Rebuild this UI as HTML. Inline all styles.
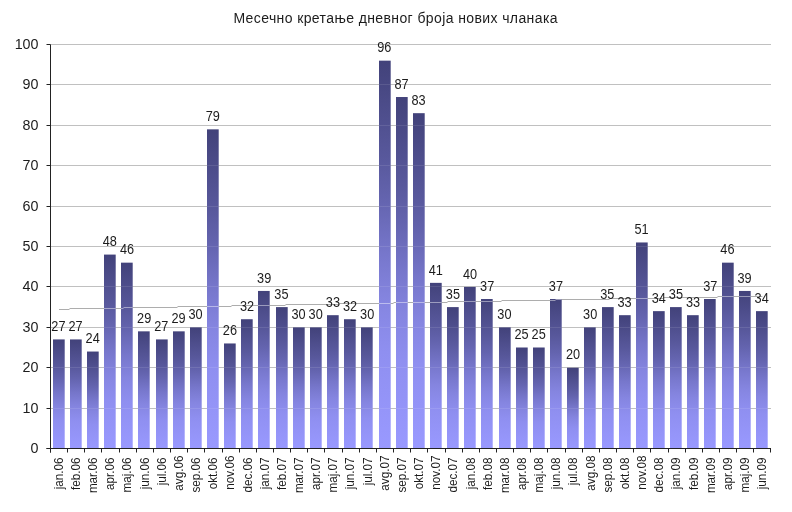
<!DOCTYPE html>
<html><head><meta charset="utf-8"><title>Месечно кретање дневног броја нових чланака</title>
<style>
html,body{margin:0;padding:0;background:#fff;}
body{width:792px;height:512px;overflow:hidden;font-family:"Liberation Sans",sans-serif;}
svg{display:block;}
text{font-family:"Liberation Sans",sans-serif;fill:#1c1c1c;}
.t{font-size:14px;}
.y{font-size:14.3px;text-anchor:end;}
.d{font-size:14px;text-anchor:middle;}
.x{font-size:12.5px;text-anchor:end;}
</style></head><body>
<svg width="792" height="512" viewBox="0 0 792 512">
<defs><linearGradient id="g" x1="0" y1="0" x2="0" y2="1"><stop offset="0" stop-color="rgb(66,66,122)"/><stop offset="0.25" stop-color="rgb(88,88,156)"/><stop offset="0.36" stop-color="rgb(100,100,175)"/><stop offset="0.5" stop-color="rgb(119,119,204)"/><stop offset="0.62" stop-color="rgb(133,133,224)"/><stop offset="0.75" stop-color="rgb(143,143,240)"/><stop offset="1" stop-color="rgb(153,153,255)"/></linearGradient></defs>
<rect width="792" height="512" fill="#fff"/>
<text class="t" x="233.4" y="22.5" textLength="324.1" lengthAdjust="spacing">Месечно кретање дневног броја нових чланака</text>
<line x1="50.5" y1="408.5" x2="771" y2="408.5" stroke="#c0c0c0" stroke-width="1"/>
<line x1="50.5" y1="367.5" x2="771" y2="367.5" stroke="#c0c0c0" stroke-width="1"/>
<line x1="50.5" y1="327.5" x2="771" y2="327.5" stroke="#c0c0c0" stroke-width="1"/>
<line x1="50.5" y1="286.5" x2="771" y2="286.5" stroke="#c0c0c0" stroke-width="1"/>
<line x1="50.5" y1="246.5" x2="771" y2="246.5" stroke="#c0c0c0" stroke-width="1"/>
<line x1="50.5" y1="206.5" x2="771" y2="206.5" stroke="#c0c0c0" stroke-width="1"/>
<line x1="50.5" y1="165.5" x2="771" y2="165.5" stroke="#c0c0c0" stroke-width="1"/>
<line x1="50.5" y1="125.5" x2="771" y2="125.5" stroke="#c0c0c0" stroke-width="1"/>
<line x1="50.5" y1="84.5" x2="771" y2="84.5" stroke="#c0c0c0" stroke-width="1"/>
<line x1="50.5" y1="44.5" x2="771" y2="44.5" stroke="#c0c0c0" stroke-width="1"/>
<rect x="59.0" y="309" width="10.5" height="1" fill="#adadad"/>
<rect x="69.5" y="308" width="54.0" height="1" fill="#adadad"/>
<rect x="123.5" y="307" width="54.0" height="1" fill="#adadad"/>
<rect x="177.5" y="306" width="54.0" height="1" fill="#adadad"/>
<rect x="231.5" y="305" width="54.0" height="1" fill="#adadad"/>
<rect x="285.5" y="304" width="54.0" height="1" fill="#adadad"/>
<rect x="339.5" y="303" width="54.0" height="1" fill="#adadad"/>
<rect x="393.5" y="302" width="54.0" height="1" fill="#adadad"/>
<rect x="447.5" y="301" width="54.0" height="1" fill="#adadad"/>
<rect x="501.5" y="300" width="54.0" height="1" fill="#adadad"/>
<rect x="555.5" y="299" width="54.0" height="1" fill="#adadad"/>
<rect x="609.5" y="298" width="54.0" height="1" fill="#adadad"/>
<rect x="663.5" y="297" width="54.0" height="1" fill="#adadad"/>
<rect x="717.5" y="296" width="44.9" height="1" fill="#adadad"/>
<g fill="url(#g)">
<rect x="53.00" y="339.42" width="11.70" height="109.08" fill="url(#g)"/>
<rect x="70.00" y="339.42" width="11.70" height="109.08" fill="url(#g)"/>
<rect x="87.00" y="351.54" width="11.70" height="96.96" fill="url(#g)"/>
<rect x="104.00" y="254.58" width="11.70" height="193.92" fill="url(#g)"/>
<rect x="121.00" y="262.66" width="11.70" height="185.84" fill="url(#g)"/>
<rect x="138.00" y="331.34" width="11.70" height="117.16" fill="url(#g)"/>
<rect x="156.00" y="339.42" width="11.70" height="109.08" fill="url(#g)"/>
<rect x="173.00" y="331.34" width="11.70" height="117.16" fill="url(#g)"/>
<rect x="190.00" y="327.30" width="11.70" height="121.20" fill="url(#g)"/>
<rect x="207.00" y="129.34" width="11.70" height="319.16" fill="url(#g)"/>
<rect x="224.00" y="343.46" width="11.70" height="105.04" fill="url(#g)"/>
<rect x="241.00" y="319.22" width="11.70" height="129.28" fill="url(#g)"/>
<rect x="258.00" y="290.94" width="11.70" height="157.56" fill="url(#g)"/>
<rect x="276.00" y="307.10" width="11.70" height="141.40" fill="url(#g)"/>
<rect x="293.00" y="327.30" width="11.70" height="121.20" fill="url(#g)"/>
<rect x="310.00" y="327.30" width="11.70" height="121.20" fill="url(#g)"/>
<rect x="327.00" y="315.18" width="11.70" height="133.32" fill="url(#g)"/>
<rect x="344.00" y="319.22" width="11.70" height="129.28" fill="url(#g)"/>
<rect x="361.00" y="327.30" width="11.70" height="121.20" fill="url(#g)"/>
<rect x="379.00" y="60.66" width="11.70" height="387.84" fill="url(#g)"/>
<rect x="396.00" y="97.02" width="11.70" height="351.48" fill="url(#g)"/>
<rect x="413.00" y="113.18" width="11.70" height="335.32" fill="url(#g)"/>
<rect x="430.00" y="282.86" width="11.70" height="165.64" fill="url(#g)"/>
<rect x="447.00" y="307.10" width="11.70" height="141.40" fill="url(#g)"/>
<rect x="464.00" y="286.90" width="11.70" height="161.60" fill="url(#g)"/>
<rect x="481.00" y="299.02" width="11.70" height="149.48" fill="url(#g)"/>
<rect x="499.00" y="327.30" width="11.70" height="121.20" fill="url(#g)"/>
<rect x="516.00" y="347.50" width="11.70" height="101.00" fill="url(#g)"/>
<rect x="533.00" y="347.50" width="11.70" height="101.00" fill="url(#g)"/>
<rect x="550.00" y="299.02" width="11.70" height="149.48" fill="url(#g)"/>
<rect x="567.00" y="367.70" width="11.70" height="80.80" fill="url(#g)"/>
<rect x="584.00" y="327.30" width="11.70" height="121.20" fill="url(#g)"/>
<rect x="602.00" y="307.10" width="11.70" height="141.40" fill="url(#g)"/>
<rect x="619.00" y="315.18" width="11.70" height="133.32" fill="url(#g)"/>
<rect x="636.00" y="242.46" width="11.70" height="206.04" fill="url(#g)"/>
<rect x="653.00" y="311.14" width="11.70" height="137.36" fill="url(#g)"/>
<rect x="670.00" y="307.10" width="11.70" height="141.40" fill="url(#g)"/>
<rect x="687.00" y="315.18" width="11.70" height="133.32" fill="url(#g)"/>
<rect x="704.00" y="299.02" width="11.70" height="149.48" fill="url(#g)"/>
<rect x="722.00" y="262.66" width="11.70" height="185.84" fill="url(#g)"/>
<rect x="739.00" y="290.94" width="11.70" height="157.56" fill="url(#g)"/>
<rect x="756.00" y="311.14" width="11.70" height="137.36" fill="url(#g)"/>
</g>
<clipPath id="bc"><rect x="53.00" y="339.42" width="11.70" height="109.08"/><rect x="70.00" y="339.42" width="11.70" height="109.08"/><rect x="87.00" y="351.54" width="11.70" height="96.96"/><rect x="104.00" y="254.58" width="11.70" height="193.92"/><rect x="121.00" y="262.66" width="11.70" height="185.84"/><rect x="138.00" y="331.34" width="11.70" height="117.16"/><rect x="156.00" y="339.42" width="11.70" height="109.08"/><rect x="173.00" y="331.34" width="11.70" height="117.16"/><rect x="190.00" y="327.30" width="11.70" height="121.20"/><rect x="207.00" y="129.34" width="11.70" height="319.16"/><rect x="224.00" y="343.46" width="11.70" height="105.04"/><rect x="241.00" y="319.22" width="11.70" height="129.28"/><rect x="258.00" y="290.94" width="11.70" height="157.56"/><rect x="276.00" y="307.10" width="11.70" height="141.40"/><rect x="293.00" y="327.30" width="11.70" height="121.20"/><rect x="310.00" y="327.30" width="11.70" height="121.20"/><rect x="327.00" y="315.18" width="11.70" height="133.32"/><rect x="344.00" y="319.22" width="11.70" height="129.28"/><rect x="361.00" y="327.30" width="11.70" height="121.20"/><rect x="379.00" y="60.66" width="11.70" height="387.84"/><rect x="396.00" y="97.02" width="11.70" height="351.48"/><rect x="413.00" y="113.18" width="11.70" height="335.32"/><rect x="430.00" y="282.86" width="11.70" height="165.64"/><rect x="447.00" y="307.10" width="11.70" height="141.40"/><rect x="464.00" y="286.90" width="11.70" height="161.60"/><rect x="481.00" y="299.02" width="11.70" height="149.48"/><rect x="499.00" y="327.30" width="11.70" height="121.20"/><rect x="516.00" y="347.50" width="11.70" height="101.00"/><rect x="533.00" y="347.50" width="11.70" height="101.00"/><rect x="550.00" y="299.02" width="11.70" height="149.48"/><rect x="567.00" y="367.70" width="11.70" height="80.80"/><rect x="584.00" y="327.30" width="11.70" height="121.20"/><rect x="602.00" y="307.10" width="11.70" height="141.40"/><rect x="619.00" y="315.18" width="11.70" height="133.32"/><rect x="636.00" y="242.46" width="11.70" height="206.04"/><rect x="653.00" y="311.14" width="11.70" height="137.36"/><rect x="670.00" y="307.10" width="11.70" height="141.40"/><rect x="687.00" y="315.18" width="11.70" height="133.32"/><rect x="704.00" y="299.02" width="11.70" height="149.48"/><rect x="722.00" y="262.66" width="11.70" height="185.84"/><rect x="739.00" y="290.94" width="11.70" height="157.56"/><rect x="756.00" y="311.14" width="11.70" height="137.36"/></clipPath>
<g clip-path="url(#bc)">
<line x1="50.5" y1="408.5" x2="771" y2="408.5" stroke="#fff" stroke-opacity="0.10" stroke-width="1"/>
<line x1="50.5" y1="367.5" x2="771" y2="367.5" stroke="#fff" stroke-opacity="0.10" stroke-width="1"/>
<line x1="50.5" y1="327.5" x2="771" y2="327.5" stroke="#fff" stroke-opacity="0.10" stroke-width="1"/>
<line x1="50.5" y1="286.5" x2="771" y2="286.5" stroke="#fff" stroke-opacity="0.10" stroke-width="1"/>
<line x1="50.5" y1="246.5" x2="771" y2="246.5" stroke="#fff" stroke-opacity="0.10" stroke-width="1"/>
<line x1="50.5" y1="206.5" x2="771" y2="206.5" stroke="#fff" stroke-opacity="0.10" stroke-width="1"/>
<line x1="50.5" y1="165.5" x2="771" y2="165.5" stroke="#fff" stroke-opacity="0.10" stroke-width="1"/>
<line x1="50.5" y1="125.5" x2="771" y2="125.5" stroke="#fff" stroke-opacity="0.10" stroke-width="1"/>
<line x1="50.5" y1="84.5" x2="771" y2="84.5" stroke="#fff" stroke-opacity="0.10" stroke-width="1"/>
<line x1="50.5" y1="44.5" x2="771" y2="44.5" stroke="#fff" stroke-opacity="0.10" stroke-width="1"/>
<rect x="59.0" y="309" width="10.5" height="1" fill="#fff" fill-opacity="0.45"/>
<rect x="69.5" y="308" width="54.0" height="1" fill="#fff" fill-opacity="0.45"/>
<rect x="123.5" y="307" width="54.0" height="1" fill="#fff" fill-opacity="0.45"/>
<rect x="177.5" y="306" width="54.0" height="1" fill="#fff" fill-opacity="0.45"/>
<rect x="231.5" y="305" width="54.0" height="1" fill="#fff" fill-opacity="0.45"/>
<rect x="285.5" y="304" width="54.0" height="1" fill="#fff" fill-opacity="0.45"/>
<rect x="339.5" y="303" width="54.0" height="1" fill="#fff" fill-opacity="0.45"/>
<rect x="393.5" y="302" width="54.0" height="1" fill="#fff" fill-opacity="0.45"/>
<rect x="447.5" y="301" width="54.0" height="1" fill="#fff" fill-opacity="0.45"/>
<rect x="501.5" y="300" width="54.0" height="1" fill="#fff" fill-opacity="0.45"/>
<rect x="555.5" y="299" width="54.0" height="1" fill="#fff" fill-opacity="0.45"/>
<rect x="609.5" y="298" width="54.0" height="1" fill="#fff" fill-opacity="0.45"/>
<rect x="663.5" y="297" width="54.0" height="1" fill="#fff" fill-opacity="0.45"/>
<rect x="717.5" y="296" width="44.9" height="1" fill="#fff" fill-opacity="0.45"/>
</g>
<line x1="50.5" y1="44.5" x2="50.5" y2="452.5" stroke="#222" stroke-width="1"/>
<line x1="46.5" y1="448.5" x2="771" y2="448.5" stroke="#222" stroke-width="1"/>
<line x1="46.5" y1="448.5" x2="50.5" y2="448.5" stroke="#222"/>
<text class="y" x="38.5" y="453.3">0</text>
<line x1="46.5" y1="408.5" x2="50.5" y2="408.5" stroke="#222"/>
<text class="y" x="38.5" y="413.3">10</text>
<line x1="46.5" y1="367.5" x2="50.5" y2="367.5" stroke="#222"/>
<text class="y" x="38.5" y="372.3">20</text>
<line x1="46.5" y1="327.5" x2="50.5" y2="327.5" stroke="#222"/>
<text class="y" x="38.5" y="332.3">30</text>
<line x1="46.5" y1="286.5" x2="50.5" y2="286.5" stroke="#222"/>
<text class="y" x="38.5" y="291.3">40</text>
<line x1="46.5" y1="246.5" x2="50.5" y2="246.5" stroke="#222"/>
<text class="y" x="38.5" y="251.3">50</text>
<line x1="46.5" y1="206.5" x2="50.5" y2="206.5" stroke="#222"/>
<text class="y" x="38.5" y="211.3">60</text>
<line x1="46.5" y1="165.5" x2="50.5" y2="165.5" stroke="#222"/>
<text class="y" x="38.5" y="170.3">70</text>
<line x1="46.5" y1="125.5" x2="50.5" y2="125.5" stroke="#222"/>
<text class="y" x="38.5" y="130.3">80</text>
<line x1="46.5" y1="84.5" x2="50.5" y2="84.5" stroke="#222"/>
<text class="y" x="38.5" y="89.3">90</text>
<line x1="46.5" y1="44.5" x2="50.5" y2="44.5" stroke="#222"/>
<text class="y" x="38.5" y="49.3">100</text>
<line x1="50.50" y1="448.5" x2="50.50" y2="452.5" stroke="#222"/>
<line x1="67.50" y1="448.5" x2="67.50" y2="452.5" stroke="#222"/>
<line x1="84.50" y1="448.5" x2="84.50" y2="452.5" stroke="#222"/>
<line x1="101.50" y1="448.5" x2="101.50" y2="452.5" stroke="#222"/>
<line x1="119.50" y1="448.5" x2="119.50" y2="452.5" stroke="#222"/>
<line x1="136.50" y1="448.5" x2="136.50" y2="452.5" stroke="#222"/>
<line x1="153.50" y1="448.5" x2="153.50" y2="452.5" stroke="#222"/>
<line x1="170.50" y1="448.5" x2="170.50" y2="452.5" stroke="#222"/>
<line x1="187.50" y1="448.5" x2="187.50" y2="452.5" stroke="#222"/>
<line x1="204.50" y1="448.5" x2="204.50" y2="452.5" stroke="#222"/>
<line x1="222.50" y1="448.5" x2="222.50" y2="452.5" stroke="#222"/>
<line x1="239.50" y1="448.5" x2="239.50" y2="452.5" stroke="#222"/>
<line x1="256.50" y1="448.5" x2="256.50" y2="452.5" stroke="#222"/>
<line x1="273.50" y1="448.5" x2="273.50" y2="452.5" stroke="#222"/>
<line x1="290.50" y1="448.5" x2="290.50" y2="452.5" stroke="#222"/>
<line x1="307.50" y1="448.5" x2="307.50" y2="452.5" stroke="#222"/>
<line x1="324.50" y1="448.5" x2="324.50" y2="452.5" stroke="#222"/>
<line x1="342.50" y1="448.5" x2="342.50" y2="452.5" stroke="#222"/>
<line x1="359.50" y1="448.5" x2="359.50" y2="452.5" stroke="#222"/>
<line x1="376.50" y1="448.5" x2="376.50" y2="452.5" stroke="#222"/>
<line x1="393.50" y1="448.5" x2="393.50" y2="452.5" stroke="#222"/>
<line x1="410.50" y1="448.5" x2="410.50" y2="452.5" stroke="#222"/>
<line x1="427.50" y1="448.5" x2="427.50" y2="452.5" stroke="#222"/>
<line x1="445.50" y1="448.5" x2="445.50" y2="452.5" stroke="#222"/>
<line x1="462.50" y1="448.5" x2="462.50" y2="452.5" stroke="#222"/>
<line x1="479.50" y1="448.5" x2="479.50" y2="452.5" stroke="#222"/>
<line x1="496.50" y1="448.5" x2="496.50" y2="452.5" stroke="#222"/>
<line x1="513.50" y1="448.5" x2="513.50" y2="452.5" stroke="#222"/>
<line x1="530.50" y1="448.5" x2="530.50" y2="452.5" stroke="#222"/>
<line x1="547.50" y1="448.5" x2="547.50" y2="452.5" stroke="#222"/>
<line x1="565.50" y1="448.5" x2="565.50" y2="452.5" stroke="#222"/>
<line x1="582.50" y1="448.5" x2="582.50" y2="452.5" stroke="#222"/>
<line x1="599.50" y1="448.5" x2="599.50" y2="452.5" stroke="#222"/>
<line x1="616.50" y1="448.5" x2="616.50" y2="452.5" stroke="#222"/>
<line x1="633.50" y1="448.5" x2="633.50" y2="452.5" stroke="#222"/>
<line x1="650.50" y1="448.5" x2="650.50" y2="452.5" stroke="#222"/>
<line x1="668.50" y1="448.5" x2="668.50" y2="452.5" stroke="#222"/>
<line x1="685.50" y1="448.5" x2="685.50" y2="452.5" stroke="#222"/>
<line x1="702.50" y1="448.5" x2="702.50" y2="452.5" stroke="#222"/>
<line x1="719.50" y1="448.5" x2="719.50" y2="452.5" stroke="#222"/>
<line x1="736.50" y1="448.5" x2="736.50" y2="452.5" stroke="#222"/>
<line x1="753.50" y1="448.5" x2="753.50" y2="452.5" stroke="#222"/>
<line x1="770.50" y1="448.5" x2="770.50" y2="452.5" stroke="#222"/>
<text class="d" transform="translate(58.4,331.0) scale(0.91,0.98)">27</text>
<text class="x" transform="translate(62.8,457.4) rotate(-90) scale(0.935,1)">jan.06</text>
<text class="d" transform="translate(75.5,331.0) scale(0.91,0.98)">27</text>
<text class="x" transform="translate(79.9,457.4) rotate(-90) scale(0.935,1)">feb.06</text>
<text class="d" transform="translate(92.7,343.1) scale(0.91,0.98)">24</text>
<text class="x" transform="translate(97.1,457.4) rotate(-90) scale(0.935,1)">mar.06</text>
<text class="d" transform="translate(109.8,246.2) scale(0.91,0.98)">48</text>
<text class="x" transform="translate(114.2,457.4) rotate(-90) scale(0.935,1)">apr.06</text>
<text class="d" transform="translate(127.0,254.3) scale(0.91,0.98)">46</text>
<text class="x" transform="translate(131.4,457.4) rotate(-90) scale(0.935,1)">maj.06</text>
<text class="d" transform="translate(144.2,322.9) scale(0.91,0.98)">29</text>
<text class="x" transform="translate(148.6,457.4) rotate(-90) scale(0.935,1)">jun.06</text>
<text class="d" transform="translate(161.3,331.0) scale(0.91,0.98)">27</text>
<text class="x" transform="translate(165.7,457.4) rotate(-90) scale(0.935,1)">jul.06</text>
<text class="d" transform="translate(178.5,322.9) scale(0.91,0.98)">29</text>
<text class="x" transform="translate(182.9,455.6) rotate(-90) scale(0.935,1)">avg.06</text>
<text class="d" transform="translate(195.6,318.9) scale(0.91,0.98)">30</text>
<text class="x" transform="translate(200.0,457.4) rotate(-90) scale(0.935,1)">sep.06</text>
<text class="d" transform="translate(212.8,120.9) scale(0.91,0.98)">79</text>
<text class="x" transform="translate(217.2,457.4) rotate(-90) scale(0.935,1)">okt.06</text>
<text class="d" transform="translate(229.9,335.1) scale(0.91,0.98)">26</text>
<text class="x" transform="translate(234.3,455.6) rotate(-90) scale(0.935,1)">nov.06</text>
<text class="d" transform="translate(247.1,310.8) scale(0.91,0.98)">32</text>
<text class="x" transform="translate(251.5,457.4) rotate(-90) scale(0.935,1)">dec.06</text>
<text class="d" transform="translate(264.2,282.5) scale(0.91,0.98)">39</text>
<text class="x" transform="translate(268.6,457.4) rotate(-90) scale(0.935,1)">jan.07</text>
<text class="d" transform="translate(281.4,298.7) scale(0.91,0.98)">35</text>
<text class="x" transform="translate(285.8,457.4) rotate(-90) scale(0.935,1)">feb.07</text>
<text class="d" transform="translate(298.5,318.9) scale(0.91,0.98)">30</text>
<text class="x" transform="translate(302.9,457.4) rotate(-90) scale(0.935,1)">mar.07</text>
<text class="d" transform="translate(315.7,318.9) scale(0.91,0.98)">30</text>
<text class="x" transform="translate(320.1,457.4) rotate(-90) scale(0.935,1)">apr.07</text>
<text class="d" transform="translate(332.9,306.8) scale(0.91,0.98)">33</text>
<text class="x" transform="translate(337.3,457.4) rotate(-90) scale(0.935,1)">maj.07</text>
<text class="d" transform="translate(350.0,310.8) scale(0.91,0.98)">32</text>
<text class="x" transform="translate(354.4,457.4) rotate(-90) scale(0.935,1)">jun.07</text>
<text class="d" transform="translate(367.2,318.9) scale(0.91,0.98)">30</text>
<text class="x" transform="translate(371.6,457.4) rotate(-90) scale(0.935,1)">jul.07</text>
<text class="d" transform="translate(384.3,52.3) scale(0.91,0.98)">96</text>
<text class="x" transform="translate(388.7,455.6) rotate(-90) scale(0.935,1)">avg.07</text>
<text class="d" transform="translate(401.5,88.6) scale(0.91,0.98)">87</text>
<text class="x" transform="translate(405.9,457.4) rotate(-90) scale(0.935,1)">sep.07</text>
<text class="d" transform="translate(418.6,104.8) scale(0.91,0.98)">83</text>
<text class="x" transform="translate(423.0,457.4) rotate(-90) scale(0.935,1)">okt.07</text>
<text class="d" transform="translate(435.8,274.5) scale(0.91,0.98)">41</text>
<text class="x" transform="translate(440.2,455.6) rotate(-90) scale(0.935,1)">nov.07</text>
<text class="d" transform="translate(452.9,298.7) scale(0.91,0.98)">35</text>
<text class="x" transform="translate(457.3,457.4) rotate(-90) scale(0.935,1)">dec.07</text>
<text class="d" transform="translate(470.1,278.5) scale(0.91,0.98)">40</text>
<text class="x" transform="translate(474.5,457.4) rotate(-90) scale(0.935,1)">jan.08</text>
<text class="d" transform="translate(487.2,290.6) scale(0.91,0.98)">37</text>
<text class="x" transform="translate(491.6,457.4) rotate(-90) scale(0.935,1)">feb.08</text>
<text class="d" transform="translate(504.4,318.9) scale(0.91,0.98)">30</text>
<text class="x" transform="translate(508.8,457.4) rotate(-90) scale(0.935,1)">mar.08</text>
<text class="d" transform="translate(521.6,339.1) scale(0.91,0.98)">25</text>
<text class="x" transform="translate(526.0,457.4) rotate(-90) scale(0.935,1)">apr.08</text>
<text class="d" transform="translate(538.7,339.1) scale(0.91,0.98)">25</text>
<text class="x" transform="translate(543.1,457.4) rotate(-90) scale(0.935,1)">maj.08</text>
<text class="d" transform="translate(555.9,290.6) scale(0.91,0.98)">37</text>
<text class="x" transform="translate(560.3,457.4) rotate(-90) scale(0.935,1)">jun.08</text>
<text class="d" transform="translate(573.0,359.3) scale(0.91,0.98)">20</text>
<text class="x" transform="translate(577.4,457.4) rotate(-90) scale(0.935,1)">jul.08</text>
<text class="d" transform="translate(590.2,318.9) scale(0.91,0.98)">30</text>
<text class="x" transform="translate(594.6,455.6) rotate(-90) scale(0.935,1)">avg.08</text>
<text class="d" transform="translate(607.3,298.7) scale(0.91,0.98)">35</text>
<text class="x" transform="translate(611.7,457.4) rotate(-90) scale(0.935,1)">sep.08</text>
<text class="d" transform="translate(624.5,306.8) scale(0.91,0.98)">33</text>
<text class="x" transform="translate(628.9,457.4) rotate(-90) scale(0.935,1)">okt.08</text>
<text class="d" transform="translate(641.6,234.1) scale(0.91,0.98)">51</text>
<text class="x" transform="translate(646.0,455.6) rotate(-90) scale(0.935,1)">nov.08</text>
<text class="d" transform="translate(658.8,302.7) scale(0.91,0.98)">34</text>
<text class="x" transform="translate(663.2,457.4) rotate(-90) scale(0.935,1)">dec.08</text>
<text class="d" transform="translate(675.9,298.7) scale(0.91,0.98)">35</text>
<text class="x" transform="translate(680.3,457.4) rotate(-90) scale(0.935,1)">jan.09</text>
<text class="d" transform="translate(693.1,306.8) scale(0.91,0.98)">33</text>
<text class="x" transform="translate(697.5,457.4) rotate(-90) scale(0.935,1)">feb.09</text>
<text class="d" transform="translate(710.3,290.6) scale(0.91,0.98)">37</text>
<text class="x" transform="translate(714.7,457.4) rotate(-90) scale(0.935,1)">mar.09</text>
<text class="d" transform="translate(727.4,254.3) scale(0.91,0.98)">46</text>
<text class="x" transform="translate(731.8,457.4) rotate(-90) scale(0.935,1)">apr.09</text>
<text class="d" transform="translate(744.6,282.5) scale(0.91,0.98)">39</text>
<text class="x" transform="translate(749.0,457.4) rotate(-90) scale(0.935,1)">maj.09</text>
<text class="d" transform="translate(761.7,302.7) scale(0.91,0.98)">34</text>
<text class="x" transform="translate(766.1,457.4) rotate(-90) scale(0.935,1)">jun.09</text>
</svg></body></html>
